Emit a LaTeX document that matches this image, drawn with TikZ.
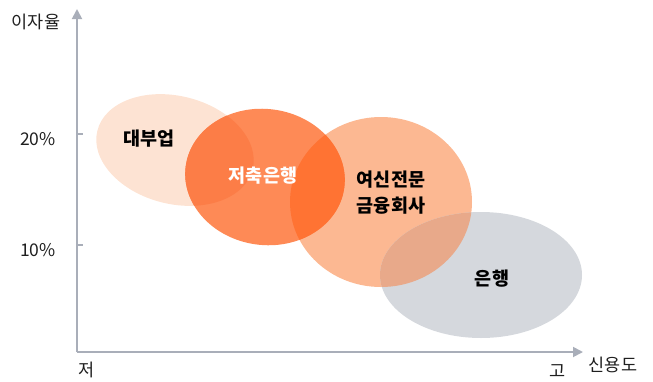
\documentclass[tikz,border=0pt]{standalone}
\usepackage{fontspec}
\setmainfont{Noto Sans CJK KR}
\usetikzlibrary{arrows.meta}
\definecolor{axisgray}{HTML}{A9AEB9}
\definecolor{cDae}{HTML}{FDE3D3}
\definecolor{cJeo}{HTML}{FE8A56}
\definecolor{cJeoDae}{HTML}{FC7D47}
\definecolor{cYeo}{HTML}{FCB892}
\definecolor{cJeoYeo}{HTML}{FF7333}
\definecolor{cEun}{HTML}{D5D8DD}
\definecolor{cEunYeo}{HTML}{E8A98A}
\tikzset{
  axisline/.style={draw=axisgray, line width=1.8pt, -{Triangle[length=10pt,width=10pt]}},
  tickline/.style={draw=axisgray, line width=1.5pt},
  axlabel/.style={font=\fontsize{17.5}{20}\selectfont, text=black!88, inner sep=0pt},
  bubblelabel/.style={font=\fontsize{18.5}{22}\selectfont\bfseries, inner sep=0pt, align=center},
}
\begin{document}
\begin{tikzpicture}[x=1pt,y=-1pt]
\useasboundingbox (0,0) rectangle (653,381);
% ellipses
\def\daeE{[rotate around={-14:(175,150)}] (175,150) ellipse (80 and 54)}
\def\jeoE{[rotate around={-8:(265,177)}] (265,177) ellipse (80 and 68)}
\def\yeoE{(381,202) ellipse (91 and 85)}
\def\eunE{(481,275) ellipse (101 and 63)}
\fill[cDae] \daeE;
\fill[cYeo] \yeoE;
\fill[cJeo] \jeoE;
\fill[cEun] \eunE;
\begin{scope}
  \clip \jeoE;
  \fill[cJeoDae] \daeE;
\end{scope}
\begin{scope}
  \clip \jeoE;
  \fill[cJeoYeo] \yeoE;
\end{scope}
\begin{scope}
  \clip \eunE;
  \fill[cEunYeo] \yeoE;
\end{scope}
% axes
\coordinate (o) at (77,352);
\coordinate (ytop) at (77,9);
\coordinate (xend) at (583,352);
\draw[axisline] (o) -- (ytop);
\draw[axisline] (o) -- (xend);
\coordinate (t20) at (77,134);
\coordinate (t20e) at (83,134);
\coordinate (t10) at (77,245);
\coordinate (t10e) at (83,245);
\draw[tickline] (t20) -- (t20e);
\draw[tickline] (t10) -- (t10e);
% axis labels
\node[axlabel] (ylab) at (36,22) {이자율};
\node[axlabel, anchor=east] (l20) at (56,139) {20\%};
\node[axlabel, anchor=east] (l10) at (56,250) {10\%};
\node[axlabel] (lo) at (87,370) {저};
\node[axlabel] (hi) at (558,371) {고};
\node[axlabel] (xlab) at (613,365) {신용도};
% bubble labels
\node[bubblelabel] (dae) at (149,139) {대부업};
\node[bubblelabel, text=white] (jeo) at (263,176) {저축은행};
\node[bubblelabel, font=\fontsize{18.5}{26}\selectfont\bfseries] (yeo) at (391,193) {여신전문\\금융회사};
\node[bubblelabel] (eun) at (492,279) {은행};
\end{tikzpicture}
\end{document}
